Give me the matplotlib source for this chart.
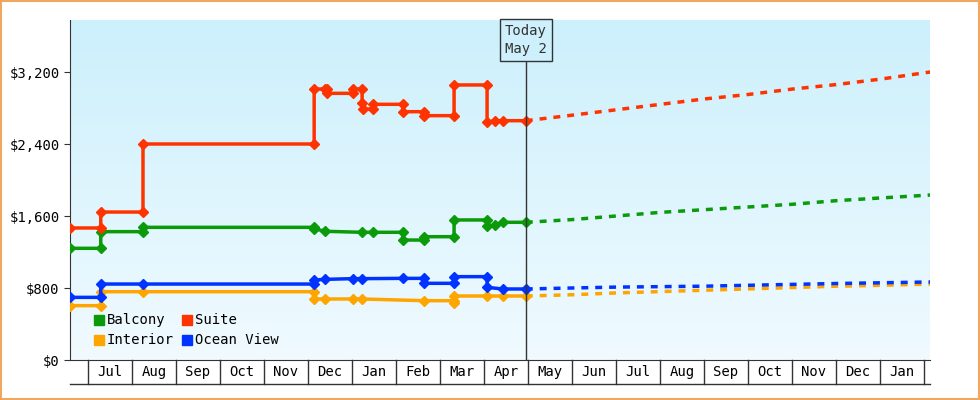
import matplotlib
matplotlib.use("Agg")
import matplotlib.pyplot as plt
import numpy as np
from matplotlib.patches import Rectangle

# x in months since Jun 1 (Jul=1 ... May=11 ... Jan=19)
months = ["Jul","Aug","Sep","Oct","Nov","Dec","Jan","Feb","Mar","Apr","May","Jun","Jul","Aug","Sep","Oct","Nov","Dec","Jan"]

suite_x = [0.59,1.29,1.29,2.25,2.25,6.14,6.14,6.39,6.43,6.43,7.02,7.02,7.23,7.23,7.25,7.48,7.48,8.16,8.16,8.64,8.64,9.32,9.32,10.07,10.07,10.25,10.43,10.95]
suite_y = [1467,1467,1644,1644,2400,2400,3011,3011,3011,2963,2963,3011,3011,2852,2789,2789,2841,2841,2759,2759,2715,2715,3056,3056,2641,2659,2659,2659]
balc_x = [0.59,1.29,1.29,2.25,2.25,6.14,6.14,6.39,7.23,7.48,8.16,8.16,8.64,8.64,9.32,9.32,10.07,10.07,10.25,10.43,10.95]
balc_y = [1241,1241,1426,1426,1474,1474,1460,1430,1419,1419,1419,1333,1333,1370,1370,1556,1556,1489,1495,1530,1530]
ocean_x = [0.59,1.29,1.29,2.25,6.14,6.14,6.39,7.02,7.23,8.16,8.64,8.64,9.32,9.32,10.07,10.07,10.43,10.95]
ocean_y = [696,696,844,844,844,889,896,904,904,907,907,852,852,926,926,807,789,789]
int_x = [0.59,1.29,1.29,2.25,6.14,6.14,6.39,7.02,7.23,8.64,9.32,9.32,9.32,10.07,10.43,10.95]
int_y = [604,604,759,759,759,678,678,678,678,659,659,633,711,711,711,711]

fc_x = [10.95,12,13,14,15,16,17,18,19,20.14]
fc_suite = [2659,2720,2780,2840,2900,2950,3010,3060,3120,3200]
fc_balc = [1530,1560,1600,1640,1670,1700,1730,1770,1800,1833]
fc_ocean = [789,800,810,815,820,830,840,850,858,867]
fc_int = [711,725,745,760,775,790,805,820,830,844]

yticks = [0,800,1600,2400,3200]
ylabels = ["$0","$800","$1,600","$2,400","$3,200"]

mono = "DejaVu Sans Mono"
fig = plt.figure(figsize=(9.8,4), dpi=100)
fig.patch.set_facecolor("white")
fig.add_artist(Rectangle((0.001,0.002),0.998,0.996, transform=fig.transFigure, fill=False, edgecolor="#f0a860", lw=1.5))
ax = fig.add_axes([70/980, 40/400, 860/980, 340/400])
xmin, xmax = (70-44)/44, (930-44)/44
ymax = 340/0.09
ax.set_xlim(xmin, xmax); ax.set_ylim(0, ymax)
ax.imshow(np.linspace(0,1,100).reshape(-1,1), cmap=matplotlib.colors.LinearSegmentedColormap.from_list("g",["#ccf0fc","#f0faff"]),
          extent=[xmin,xmax,0,ymax], aspect="auto", origin="upper", zorder=0)

cols = {"Balcony":"#0a9a0a","Suite":"#ff3300","Interior":"#ffa500","Ocean View":"#0033ff"}
for name,x,y,fy in [("Interior",int_x,int_y,fc_int),("Ocean View",ocean_x,ocean_y,fc_ocean),("Balcony",balc_x,balc_y,fc_balc),("Suite",suite_x,suite_y,fc_suite)]:
    c = cols[name]
    ax.plot(x,y,color=c,lw=2.5,marker="D",ms=5,zorder=3)
    ax.plot(fc_x,fy,color=c,lw=2.5,ls=(0,(2,2)),zorder=3)

tx = (526-44)/44
ax.axvline(tx,color="#333333",lw=1,zorder=4)
ax.text(tx, ymax-20/0.09, "Today\nMay 2", ha="center", va="center", fontfamily=mono, fontsize=10, color="#333333",
        linespacing=1.4, bbox=dict(boxstyle="square,pad=0.35", fc="#cdf0fc", ec="#333333", lw=1), zorder=5)

for s in ["top","right"]: ax.spines[s].set_visible(False)
ax.spines["left"].set_color("#333333"); ax.spines["bottom"].set_color("#333333")
ax.set_yticks(yticks); ax.set_yticklabels(ylabels, fontfamily=mono, fontsize=10)
ax.tick_params(axis="y", length=4, color="#333333")
ax.set_xticks([])
# month boxes below axis
for i,m in enumerate(months):
    ax.text(i+1.5, -12/0.09, m, ha="center", va="center", fontfamily=mono, fontsize=10, clip_on=False)
for b in range(1,21):
    if b <= xmax:
        ax.plot([b,b],[0,-24/0.09],color="#333333",lw=1,clip_on=False)
ax.plot([xmin,xmax],[-24/0.09,-24/0.09],color="#333333",lw=1,clip_on=False)

# legend
items = [("Balcony",1.05,440),("Suite",2.95,440),("Interior",1.05,565),("Ocean View",2.95,565)]
for name,lx,ly in [("Balcony",94,320),("Suite",182,320),("Interior",94,340),("Ocean View",182,340)]:
    X = (lx-44)/44; Y = (360-ly)/0.09
    ax.add_patch(Rectangle((X,Y-55),10/44,10/0.09,color=cols[name],zorder=5))
    ax.text(X+13/44, Y, name, va="center", fontfamily=mono, fontsize=10, zorder=5)

fig.savefig("out.png", dpi=100)
